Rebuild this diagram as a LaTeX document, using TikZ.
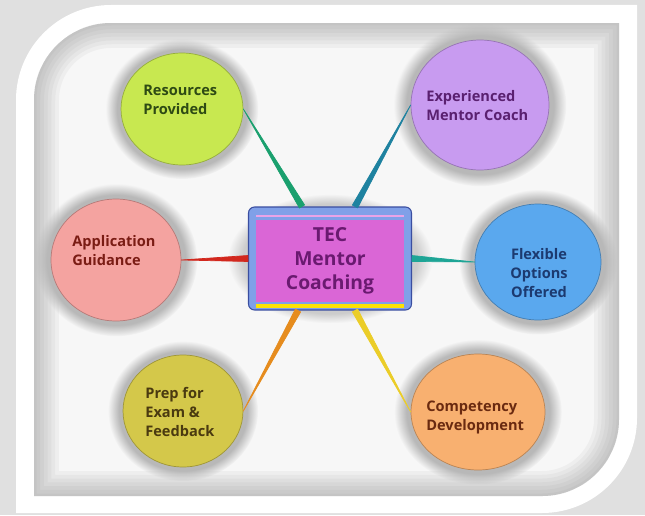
\documentclass[tikz,border=0pt]{standalone}
\usepackage{fontspec}
\setmainfont{Open Sans}
\usepackage{xcolor}
\usetikzlibrary{shadows,shapes.geometric,calc}

% bubble colours
\definecolor{resFill}{RGB}{200,232,80}
\definecolor{resText}{RGB}{46,74,20}
\definecolor{expFill}{RGB}{200,155,240}
\definecolor{expText}{RGB}{90,32,112}
\definecolor{appFill}{RGB}{244,163,160}
\definecolor{appText}{RGB}{122,28,20}
\definecolor{flexFill}{RGB}{90,168,238}
\definecolor{flexText}{RGB}{28,58,112}
\definecolor{prepFill}{RGB}{212,200,74}
\definecolor{prepText}{RGB}{74,58,16}
\definecolor{compFill}{RGB}{248,176,112}
\definecolor{compText}{RGB}{106,42,16}
% centre box colours
\definecolor{hubBlue}{RGB}{128,160,232}
\definecolor{hubEdge}{RGB}{58,78,160}
\definecolor{hubPink}{RGB}{218,102,214}
\definecolor{hubText}{RGB}{106,26,112}
% spoke colours
\definecolor{spokeRes}{RGB}{26,160,110}
\definecolor{spokeExp}{RGB}{30,130,160}
\definecolor{spokeApp}{RGB}{210,40,30}
\definecolor{spokeFlex}{RGB}{30,165,150}
\definecolor{spokePrep}{RGB}{230,140,30}
\definecolor{spokeComp}{RGB}{235,205,40}

\tikzset{
  bubble/.style={ellipse, inner sep=0pt, fill=#1, draw=#1!75!black, line width=0.4pt,
    circular glow={fill=black!28}},
  bubbletext/.style={font=\bfseries\fontsize{8.3}{10.8}\selectfont, align=left, inner sep=0pt},
  hub/.style={rectangle, rounded corners=0.12cm, minimum width=3.26cm, minimum height=2.06cm,
    fill=hubBlue, draw=hubEdge, line width=0.6pt, circular glow={fill=black!20}},
  hubcore/.style={rectangle, minimum width=2.96cm, minimum height=1.64cm, inner sep=0pt,
    fill=hubPink, text=hubText, align=center, font=\bfseries\fontsize{11}{13.5}\selectfont},
  spokeline/.style={line width=0.4pt, line join=round},
}

% tapered connector: thin at #1, wide at #2
\newcommand{\drawspoke}[3]{%
  \filldraw[spokeline, #3] (#1) -- ($(#2)!1.7pt!90:(#1)$) -- ($(#2)!1.7pt!-90:(#1)$) -- cycle;}

% inner panel outline
\newcommand{\innerpanel}{(34,19) -- (34,415) arc[start angle=180, end angle=90, radius=77]
  -- (619,492) -- (619,96) arc[start angle=0, end angle=-90, radius=77] -- cycle}

\begin{document}
\begin{tikzpicture}[x=0.02cm, y=0.02cm]
  % page and white frame
  \fill[black!12] (0,0) rectangle (645,515);
  \fill[white] (16,2) -- (16,415) arc[start angle=180, end angle=90, radius=95]
    -- (637,510) -- (637,97) arc[start angle=0, end angle=-90, radius=95] -- cycle;

  % inner panel with soft shaded edges
  \begin{scope}
    \clip \innerpanel;
    \fill[black!3] (0,0) rectangle (645,515);
    \foreach \w in {1.0cm,0.85cm,0.7cm,0.55cm,0.4cm,0.25cm,0.1cm}
      \draw[black!50, opacity=0.07, line width=\w] \innerpanel;
  \end{scope}

  % bubbles
  \node[bubble=resFill, minimum width=2.44cm, minimum height=2.24cm] (res) at (182,406) {};
  \node[bubble=expFill, minimum width=2.76cm, minimum height=2.6cm] (exp) at (480,410) {};
  \node[bubble=appFill, minimum width=2.6cm, minimum height=2.44cm] (app) at (116,255) {};
  \node[bubble=flexFill, minimum width=2.52cm, minimum height=2.32cm] (flex) at (538,253) {};
  \node[bubble=prepFill, minimum width=2.4cm, minimum height=2.24cm] (prep) at (183,104) {};
  \node[bubble=compFill, minimum width=2.68cm, minimum height=2.32cm] (comp) at (478,103) {};

  % bubble labels
  \node[bubbletext, text=resText, anchor=west] (resLabel) at (143,415) {Resources\\Provided};
  \node[bubbletext, text=expText, anchor=west] (expLabel) at (426,409) {Experienced\\Mentor Coach};
  \node[bubbletext, text=appText, anchor=west] (appLabel) at (72,264) {Application\\Guidance};
  \node[bubbletext, text=flexText, align=center] (flexLabel) at (539,242) {Flexible\\Options\\Offered};
  \node[bubbletext, text=prepText, anchor=west] (prepLabel) at (145,103) {Prep for\\Exam \&\\Feedback};
  \node[bubbletext, text=compText, anchor=west] (compLabel) at (426,98) {Competency\\Development};

  % centre box
  \node[hub] (hub) at (330,256.5) {};
  \node[hubcore] (hubcore) at ($(hub.center)+(0,-2.5)$) {TEC\\Mentor\\Coaching};
  \fill[yellow!85!orange] ($(hubcore.south west)+(0,-6)$) rectangle ($(hubcore.south east)+(0,-2)$);
  \fill[hubPink!60!white] ($(hubcore.north west)+(0,3)$) rectangle ($(hubcore.north east)+(0,5)$);

  % where the spokes meet the box
  \coordinate (hubRes) at ($(hub.north)+(-28,0)$);
  \coordinate (hubExp) at ($(hub.north)+(25,0)$);
  \coordinate (hubPrep) at ($(hub.south)+(-32,0)$);
  \coordinate (hubComp) at ($(hub.south)+(25,0)$);

  % spokes
  \drawspoke{res.east}{hubRes}{spokeRes}
  \drawspoke{exp.west}{hubExp}{spokeExp}
  \drawspoke{app.east}{hub.west}{spokeApp}
  \drawspoke{flex.west}{hub.east}{spokeFlex}
  \drawspoke{prep.east}{hubPrep}{spokePrep}
  \drawspoke{comp.west}{hubComp}{spokeComp}
\end{tikzpicture}
\end{document}
